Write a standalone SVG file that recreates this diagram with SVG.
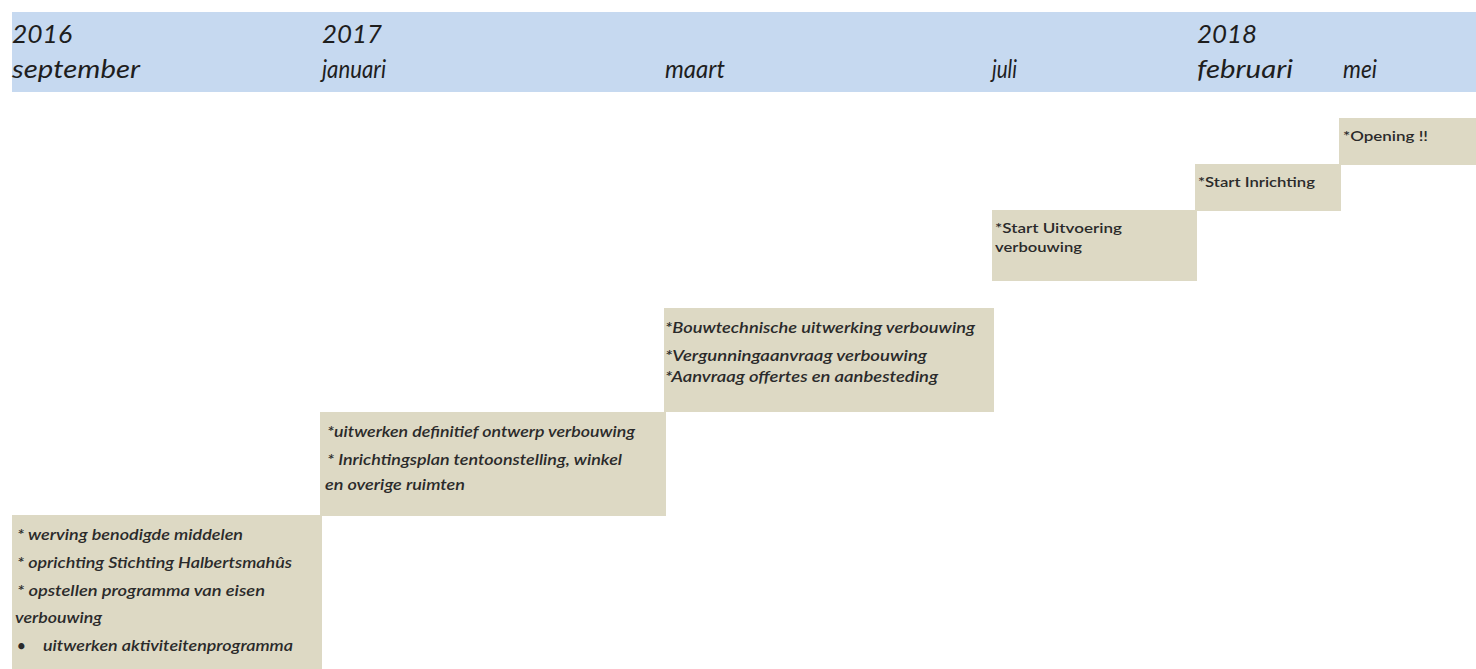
<svg xmlns="http://www.w3.org/2000/svg" width="1476" height="669" viewBox="0 0 1476 669">
  <style>
    .band { fill: #c6d9f0; }
    .box { fill: #ddd9c4; }
    .hdr { font-family: Lato, "Open Sans", "Liberation Sans", sans-serif; font-style: italic; font-size: 25px; fill: #1e1e1e; }
    .it { font-family: Lato, "Open Sans", "Liberation Sans", sans-serif; font-style: italic; font-weight: 600; font-size: 15px; fill: #2a2a2a; }
    .rg { font-family: Lato, "Open Sans", "Liberation Sans", sans-serif; font-weight: 600; font-size: 14px; fill: #2a2a2a; }
  </style>
  <rect x="0" y="0" width="1476" height="669" fill="#ffffff"/>

  <g id="timeline-header">
    <rect class="band" x="12" y="12" width="1464" height="80"/>
    <text class="hdr" x="12" y="43" textLength="60" lengthAdjust="spacingAndGlyphs">2016</text>
    <text class="hdr" x="12" y="78" textLength="128" lengthAdjust="spacingAndGlyphs">september</text>
    <text class="hdr" x="322" y="43" textLength="60" lengthAdjust="spacingAndGlyphs">2017</text>
    <text class="hdr" x="322" y="78" textLength="64" lengthAdjust="spacingAndGlyphs">januari</text>
    <text class="hdr" x="665" y="78" textLength="60" lengthAdjust="spacingAndGlyphs">maart</text>
    <text class="hdr" x="992" y="78" textLength="25" lengthAdjust="spacingAndGlyphs">juli</text>
    <text class="hdr" x="1197" y="43" textLength="60" lengthAdjust="spacingAndGlyphs">2018</text>
    <text class="hdr" x="1197" y="78" textLength="96" lengthAdjust="spacingAndGlyphs">februari</text>
    <text class="hdr" x="1343" y="78" textLength="34" lengthAdjust="spacingAndGlyphs">mei</text>
  </g>

  <g id="step-september">
    <rect class="box" x="12" y="515" width="310" height="154"/>
    <text class="it" x="17" y="540" textLength="226" lengthAdjust="spacingAndGlyphs">* werving benodigde middelen</text>
    <text class="it" x="17" y="568" textLength="275" lengthAdjust="spacingAndGlyphs">* oprichting Stichting Halbertsmahûs</text>
    <text class="it" x="17" y="596" textLength="248" lengthAdjust="spacingAndGlyphs">* opstellen programma van eisen</text>
    <text class="it" x="15" y="623" textLength="87" lengthAdjust="spacingAndGlyphs">verbouwing</text>
    <text class="it" x="17" y="651">•</text>
    <text class="it" x="43" y="651" textLength="250" lengthAdjust="spacingAndGlyphs">uitwerken aktiviteitenprogramma</text>
  </g>

  <g id="step-januari">
    <rect class="box" x="320" y="412" width="346" height="104"/>
    <text class="it" x="327" y="437" textLength="308" lengthAdjust="spacingAndGlyphs">*uitwerken definitief ontwerp verbouwing</text>
    <text class="it" x="327" y="465" textLength="295" lengthAdjust="spacingAndGlyphs">* Inrichtingsplan tentoonstelling, winkel</text>
    <text class="it" x="325" y="490" textLength="140" lengthAdjust="spacingAndGlyphs">en overige ruimten</text>
  </g>

  <g id="step-maart">
    <rect class="box" x="664" y="308" width="330" height="104"/>
    <text class="it" x="665" y="333" textLength="310" lengthAdjust="spacingAndGlyphs">*Bouwtechnische uitwerking verbouwing</text>
    <text class="it" x="665" y="361" textLength="262" lengthAdjust="spacingAndGlyphs">*Vergunningaanvraag verbouwing</text>
    <text class="it" x="665" y="382" textLength="273" lengthAdjust="spacingAndGlyphs">*Aanvraag offertes en aanbesteding</text>
  </g>

  <g id="step-juli">
    <rect class="box" x="992" y="210" width="205" height="71"/>
    <text class="rg" x="995" y="233" textLength="127" lengthAdjust="spacingAndGlyphs">*Start Uitvoering</text>
    <text class="rg" x="995" y="252" textLength="87" lengthAdjust="spacingAndGlyphs">verbouwing</text>
  </g>

  <g id="step-februari">
    <rect class="box" x="1195" y="164" width="146" height="47"/>
    <text class="rg" x="1198" y="187" textLength="117" lengthAdjust="spacingAndGlyphs">*Start Inrichting</text>
  </g>

  <g id="step-mei">
    <rect class="box" x="1339" y="118" width="137" height="47"/>
    <text class="rg" x="1343" y="141" textLength="85" lengthAdjust="spacingAndGlyphs">*Opening !!</text>
  </g>

  <g id="connectors"></g>
</svg>
